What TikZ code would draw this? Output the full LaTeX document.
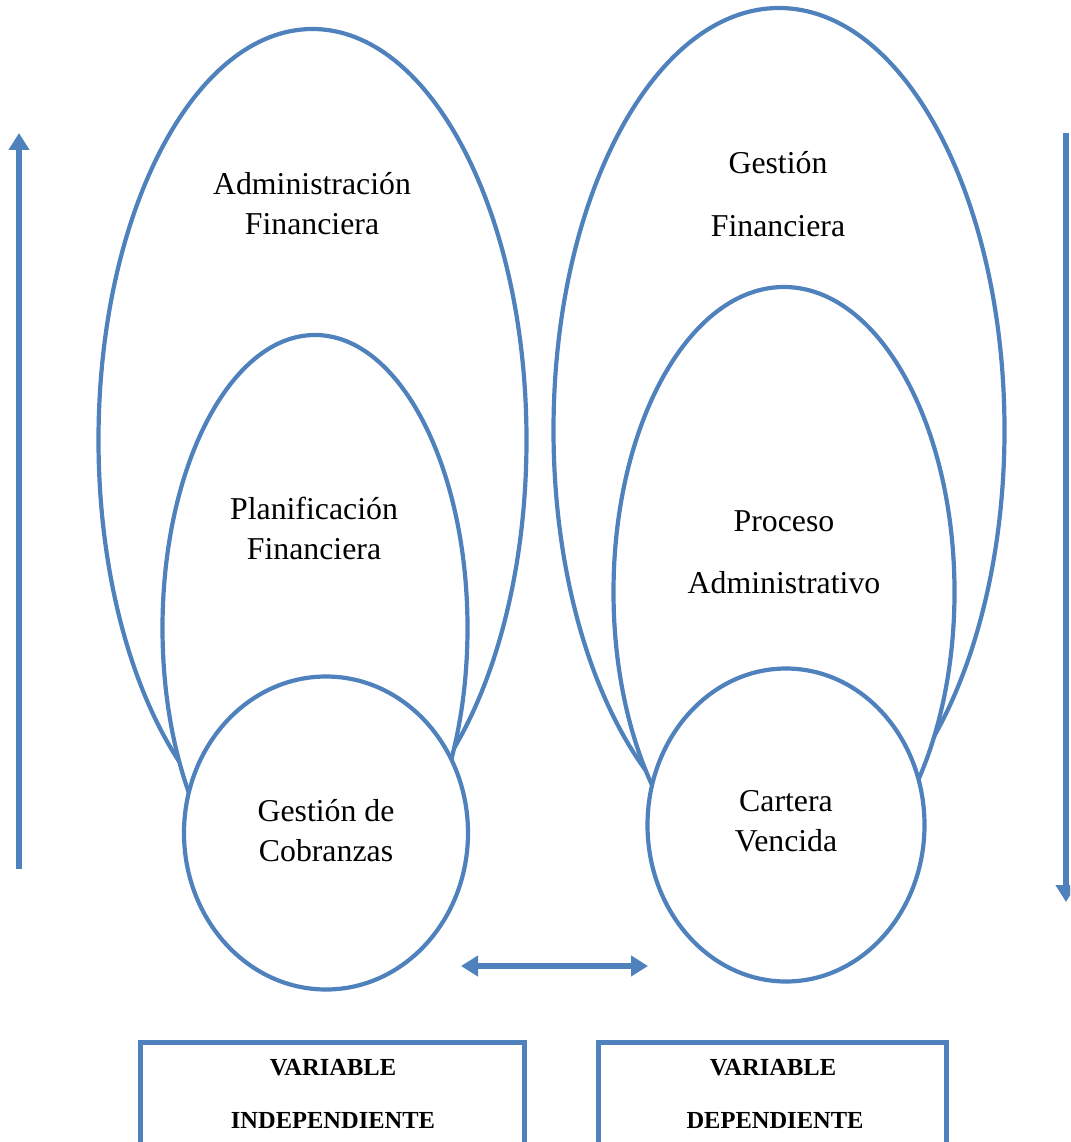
\documentclass[tikz,border=0pt]{standalone}
\usepackage{fontspec}
\setmainfont{Liberation Serif}
\usetikzlibrary{shapes.geometric,arrows.meta}
\definecolor{blu}{HTML}{4F81BD}
\begin{document}
\begin{tikzpicture}[x=1pt,y=-1pt,
  ring/.style={ellipse,draw=blu,line width=4.2pt,fill=white,inner sep=0pt},
  lbl/.style={font=\fontsize{31.8}{40}\selectfont,align=center},
  blbl/.style={font=\fontsize{24.5}{28}\selectfont\bfseries},
  vbox/.style={draw=blu,line width=5pt,fill=white},
  arr/.style={draw=blu,line width=6pt,-{Triangle[length=17pt,width=20pt]}},
  darr/.style={draw=blu,line width=6pt,{Triangle[length=17pt,width=20pt]}-{Triangle[length=17pt,width=20pt]}}]
\clip (0,0) rectangle (1070,1142);
% left group
\node[ring,minimum width=428pt,minimum height=822pt] (lo) at (312.5,440) {};
\node[ring,minimum width=305pt,minimum height=586pt] (li) at (315,628) {};
\node[ring,minimum width=284pt,minimum height=313pt] (lc) at (326,833) {};
% right group
\node[ring,minimum width=451pt,minimum height=844pt] (ro) at (779,430) {};
\node[ring,minimum width=341pt,minimum height=610pt] (ri) at (784,592) {};
\node[ring,minimum width=277pt,minimum height=313pt] (rc) at (786,825) {};
% labels
\node[lbl] (t1) at (312,204) {Administración\\Financiera};
\node[lbl] (t2) at (314,528) {Planificación\\Financiera};
\node[lbl] (t3) at (326,831) {Gestión de\\Cobranzas};
\node[lbl] (t4a) at (778,163) {Gestión};
\node[lbl] (t4b) at (778,226) {Financiera};
\node[lbl] (t5a) at (784,521) {Proceso};
\node[lbl] (t5b) at (784,583) {Administrativo};
\node[lbl] (t6) at (786,821) {Cartera\\Vencida};
% arrows
\coordinate (la1) at (19,869);
\coordinate (la2) at (19,133);
\draw[arr] (la1) -- (la2);
\coordinate (ra1) at (1066,133);
\coordinate (ra2) at (1066,902);
\draw[arr] (ra1) -- (ra2);
\coordinate (ha1) at (461,966);
\coordinate (ha2) at (648,966);
\draw[darr] (ha1) -- (ha2);
% boxes
\draw[vbox] (140.5,1042.5) rectangle (524.5,1160);
\draw[vbox] (598.5,1042.5) rectangle (946.5,1160);
\node[blbl] (b1a) at (333,1068) {VARIABLE};
\node[blbl] (b1b) at (333,1120) {INDEPENDIENTE};
\node[blbl] (b2a) at (773,1068) {VARIABLE};
\node[blbl] (b2b) at (775,1120) {DEPENDIENTE};
\end{tikzpicture}
\end{document}
